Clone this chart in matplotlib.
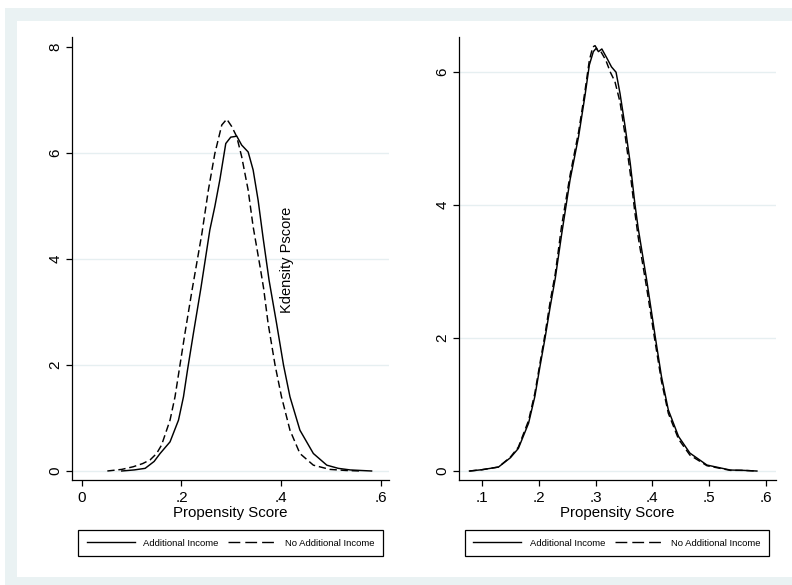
import matplotlib
matplotlib.use("Agg")
import matplotlib.pyplot as plt
from matplotlib.lines import Line2D
from matplotlib.patches import Rectangle
from matplotlib.ticker import FixedLocator, FixedFormatter

plt.rcParams['font.family'] = ['Liberation Sans', 'DejaVu Sans']

# ---- data -------------------------------------------------------------
groups = ["Additional Income", "No Additional Income"]

# Before matching: kernel density of the propensity score
before_x_add = [0.080, 0.105, 0.127, 0.145, 0.157, 0.177, 0.194, 0.204, 0.212,
                0.224, 0.239, 0.257, 0.267, 0.277, 0.289, 0.299, 0.306, 0.311,
                0.321, 0.334, 0.344, 0.354, 0.364, 0.376, 0.391, 0.405, 0.418,
                0.438, 0.465, 0.492, 0.515, 0.539, 0.560, 0.582]
before_y_add = [0.00, 0.02, 0.05, 0.18, 0.33, 0.55, 0.96, 1.40, 1.90,
                2.60, 3.45, 4.55, 4.99, 5.49, 6.18, 6.30, 6.31, 6.32,
                6.15, 6.02, 5.68, 5.11, 4.40, 3.60, 2.79, 2.00, 1.40,
                0.77, 0.33, 0.11, 0.05, 0.02, 0.01, 0.00]

before_x_noadd = [0.051, 0.080, 0.103, 0.122, 0.137, 0.150, 0.160, 0.177, 0.187,
                  0.197, 0.207, 0.221, 0.241, 0.254, 0.267, 0.281, 0.291, 0.301,
                  0.311, 0.321, 0.334, 0.344, 0.358, 0.365, 0.374, 0.388, 0.401,
                  0.418, 0.438, 0.465, 0.498, 0.530, 0.560]
before_y_noadd = [0.00, 0.03, 0.08, 0.14, 0.21, 0.33, 0.49, 0.96, 1.40,
                  2.00, 2.60, 3.40, 4.48, 5.30, 5.99, 6.53, 6.64, 6.50,
                  6.31, 5.93, 5.30, 4.61, 3.85, 3.45, 2.79, 2.00, 1.40,
                  0.77, 0.33, 0.11, 0.03, 0.01, 0.00]

# After matching
after_x_add = [0.078, 0.100, 0.129, 0.150, 0.164, 0.182, 0.193, 0.202, 0.211,
               0.220, 0.229, 0.240, 0.255, 0.270, 0.281, 0.289, 0.296, 0.301,
               0.305, 0.311, 0.320, 0.328, 0.336, 0.343, 0.352, 0.361, 0.369,
               0.375, 0.390, 0.405, 0.416, 0.428, 0.446, 0.466, 0.496, 0.537,
               0.560, 0.584]
after_y_add = [0.00, 0.02, 0.06, 0.20, 0.34, 0.72, 1.12, 1.57, 2.00,
               2.47, 2.90, 3.55, 4.38, 5.03, 5.63, 6.11, 6.31, 6.36,
               6.31, 6.35, 6.21, 6.08, 6.00, 5.68, 5.18, 4.63, 4.03,
               3.65, 2.87, 2.02, 1.42, 0.92, 0.52, 0.27, 0.09, 0.015,
               0.01, 0.00]

after_x_noadd = [0.078, 0.100, 0.129, 0.150, 0.164, 0.182, 0.193, 0.202, 0.211,
                 0.220, 0.229, 0.240, 0.255, 0.270, 0.281, 0.289, 0.295, 0.299,
                 0.304, 0.310, 0.318, 0.326, 0.334, 0.343, 0.352, 0.361, 0.369,
                 0.375, 0.390, 0.405, 0.416, 0.428, 0.446, 0.466, 0.496, 0.537,
                 0.560, 0.584]
after_y_noadd = [0.00, 0.02, 0.06, 0.21, 0.36, 0.76, 1.17, 1.62, 2.06,
                 2.55, 2.97, 3.68, 4.45, 5.10, 5.70, 6.18, 6.38, 6.40,
                 6.33, 6.30, 6.18, 6.00, 5.86, 5.55, 5.05, 4.48, 3.90,
                 3.52, 2.75, 1.93, 1.35, 0.87, 0.48, 0.24, 0.08, 0.01,
                 0.01, 0.00]

left_xticks = [0.0, 0.2, 0.4, 0.6]
left_xticklabels = ["0", ".2", ".4", ".6"]
left_yticks = [0, 2, 4, 6, 8]
right_xticks = [0.1, 0.2, 0.3, 0.4, 0.5, 0.6]
right_xticklabels = [".1", ".2", ".3", ".4", ".5", ".6"]
right_yticks = [0, 2, 4, 6]

x_title = "Propensity Score"
inner_note = "Kdensity Pscore"

# ---- styling ----------------------------------------------------------
W, H = 792, 585
BG = "#eaf2f3"
GRID = "#e6eff1"


def fx(px):
    return px / W


def fy(py):
    return 1 - py / H


fig = plt.figure(figsize=(W / 100, H / 100), dpi=100, facecolor="white")

# graph region frame
fig.add_artist(Rectangle((fx(5), 0), 1 - fx(5), fy(8), transform=fig.transFigure,
                         facecolor=BG, edgecolor="none", zorder=-10))
fig.add_artist(Rectangle((fx(17), fy(577)), 1 - fx(17), fy(21) - fy(577),
                         transform=fig.transFigure, facecolor="white",
                         edgecolor="none", zorder=-9))

ax_bottom, ax_top = fy(480), fy(37)
ax_l = fig.add_axes([fx(72), ax_bottom, fx(389) - fx(72), ax_top - ax_bottom])
ax_r = fig.add_axes([fx(459), ax_bottom, fx(776) - fx(459), ax_top - ax_bottom])

dash_plot = (5.0, 2.6)
dash_leg = (8.5, 3.6)


def style(ax, xticks, xlabels, yticks, xlim, ylim, hide_top_grid):
    ax.set_facecolor("none")
    ax.set_xlim(*xlim)
    ax.set_ylim(*ylim)
    for s in ("top", "right"):
        ax.spines[s].set_visible(False)
    for s in ("left", "bottom"):
        ax.spines[s].set_linewidth(0.9)
        ax.spines[s].set_color("black")
    ax.xaxis.set_major_locator(FixedLocator(xticks))
    ax.xaxis.set_major_formatter(FixedFormatter(xlabels))
    ax.yaxis.set_major_locator(FixedLocator(yticks))
    ax.yaxis.set_major_formatter(FixedFormatter([str(v) for v in yticks]))
    ax.tick_params(axis="both", direction="out", length=4.3, width=0.9,
                   labelsize=11, color="black")
    ax.tick_params(axis="x", pad=3.5)
    ax.tick_params(axis="y", pad=2.5, labelrotation=90)
    for lab in ax.get_yticklabels():
        lab.set_va("center")
    ax.yaxis.grid(True, color=GRID, linewidth=1.0, zorder=0)
    ax.set_axisbelow(True)
    if hide_top_grid:
        ax.yaxis.get_gridlines()[-1].set_visible(False)
    ax.set_xlabel(x_title, fontsize=10.8, labelpad=0.5)


def add_legend(ax, cx):
    handles = [Line2D([], [], color="black", lw=1.0),
               Line2D([], [], color="black", lw=1.0, dashes=dash_leg)]
    leg = ax.legend(handles, groups, loc="center", ncol=2,
                    bbox_to_anchor=(fx(cx), fy(543)), bbox_transform=fig.transFigure,
                    fontsize=6.8, frameon=True, fancybox=False, framealpha=1,
                    edgecolor="black", handlelength=5.1, handletextpad=0.9,
                    columnspacing=1.0, borderpad=0.88, borderaxespad=0)
    leg.get_frame().set_linewidth(0.9)
    leg.set_zorder(5)


# before matching
ax_l.plot(before_x_add, before_y_add, color="black", lw=1.05, zorder=3)
ax_l.plot(before_x_noadd, before_y_noadd, color="black", lw=1.05,
          dashes=dash_plot, zorder=3)
style(ax_l, left_xticks, left_xticklabels, left_yticks,
      (-0.020, 0.617), (-0.17, 8.19), True)
ax_l.text(0.412, 3.98, inner_note, rotation=90, ha="center", va="center",
          fontsize=10.5)
add_legend(ax_l, 230.5)

# after matching
ax_r.plot(after_x_add, after_y_add, color="black", lw=1.05, zorder=3)
ax_r.plot(after_x_noadd, after_y_noadd, color="black", lw=1.05,
          dashes=dash_plot, zorder=3)
style(ax_r, right_xticks, right_xticklabels, right_yticks,
      (0.0595, 0.6176), (-0.135, 6.53), False)
add_legend(ax_r, 617)

fig.savefig("out.png", dpi=100, facecolor="white")
